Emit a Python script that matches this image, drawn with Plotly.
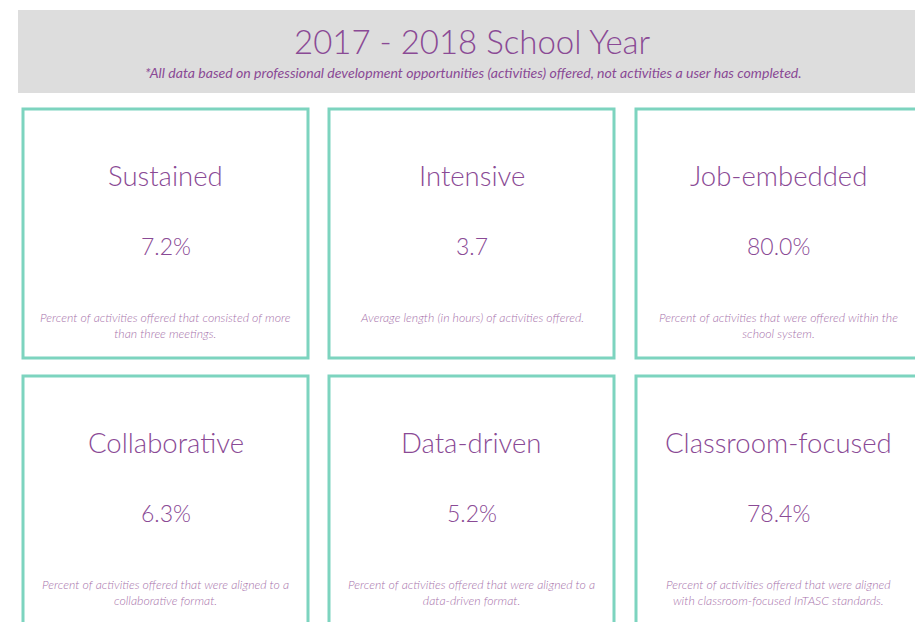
import plotly.graph_objects as go

header_title = "2017 - 2018 School Year"
header_note = "*All data based on professional development opportunities (activities) offered, not activities a user has completed."

card_titles = ["Sustained", "Intensive", "Job-embedded",
               "Collaborative", "Data-driven", "Classroom-focused"]
card_values = [7.2, 3.7, 80.0, 6.3, 5.2, 78.4]
value_formats = ["{:.1f}%", "{:.1f}", "{:.1f}%", "{:.1f}%", "{:.1f}%", "{:.1f}%"]
card_notes = [
    "Percent of activities offered that consisted of more<br>than three meetings.",
    "Average length (in hours) of activities offered.",
    "Percent of activities that were offered within the<br>school system.",
    "Percent of activities offered that were aligned to a<br>collaborative format.",
    "Percent of activities offered that were aligned to a<br>data-driven format.",
    "Percent of activities offered that were aligned<br>with classroom-focused InTASC standards.",
]

W, H = 915, 622
PURPLE = "#8a4a95"
LIGHT_PURPLE = "#a773ab"
TEAL = "#7dd4bf"
FONT = "Lato"

fig = go.Figure()
shapes = []
annotations = []

# header band
shapes.append(dict(type="rect", xref="x", yref="y", x0=18, x1=940, y0=10, y1=93,
                   fillcolor="#dddddd", line=dict(width=0), layer="below"))
annotations.append(dict(x=472, y=41, xref="x", yref="y", text=header_title, showarrow=False,
                        font=dict(family=FONT, size=33, color=PURPLE, weight=300),
                        xanchor="center", yanchor="middle"))
annotations.append(dict(x=473, y=72, xref="x", yref="y", text="<i>" + header_note + "</i>", showarrow=False,
                        font=dict(family=FONT, size=14.1, color=PURPLE, weight=400),
                        xanchor="center", yanchor="middle"))

col_x0 = [23, 329, 636]
row_y0 = [109, 376]
card_w, card_h = 285, 249

for i in range(6):
    r, c = divmod(i, 3)
    x0 = col_x0[c]
    y0 = row_y0[r]
    cx = x0 + card_w / 2
    shapes.append(dict(type="rect", xref="x", yref="y", x0=x0, x1=x0 + card_w, y0=y0, y1=y0 + card_h,
                       fillcolor="white", line=dict(color=TEAL, width=3)))
    annotations.append(dict(x=cx, y=y0 + 66, xref="x", yref="y", text=card_titles[i], showarrow=False,
                            font=dict(family=FONT, size=27.5, color=PURPLE, weight=300),
                            xanchor="center", yanchor="middle"))
    annotations.append(dict(x=cx, y=y0 + 137, xref="x", yref="y", text=value_formats[i].format(card_values[i]),
                            showarrow=False, font=dict(family=FONT, size=23, color=PURPLE, weight=300),
                            xanchor="center", yanchor="middle"))
    annotations.append(dict(x=cx, y=y0 + 199, xref="x", yref="y", text="<i>" + card_notes[i] + "</i>",
                            showarrow=False, font=dict(family=FONT, size=12.3, color=LIGHT_PURPLE, weight=300),
                            xanchor="center", yanchor="top", align="center"))

fig.update_layout(
    width=W, height=H,
    margin=dict(l=0, r=0, t=0, b=0),
    paper_bgcolor="white", plot_bgcolor="white",
    xaxis=dict(range=[0, W], visible=False, fixedrange=True),
    yaxis=dict(range=[H, 0], visible=False, fixedrange=True),
    shapes=shapes, annotations=annotations,
    showlegend=False,
)
fig.write_html(
    "out.html",
    config={"displayModeBar": False},
    post_script="document.body.style.margin='0';document.body.style.overflow='hidden';",
)
